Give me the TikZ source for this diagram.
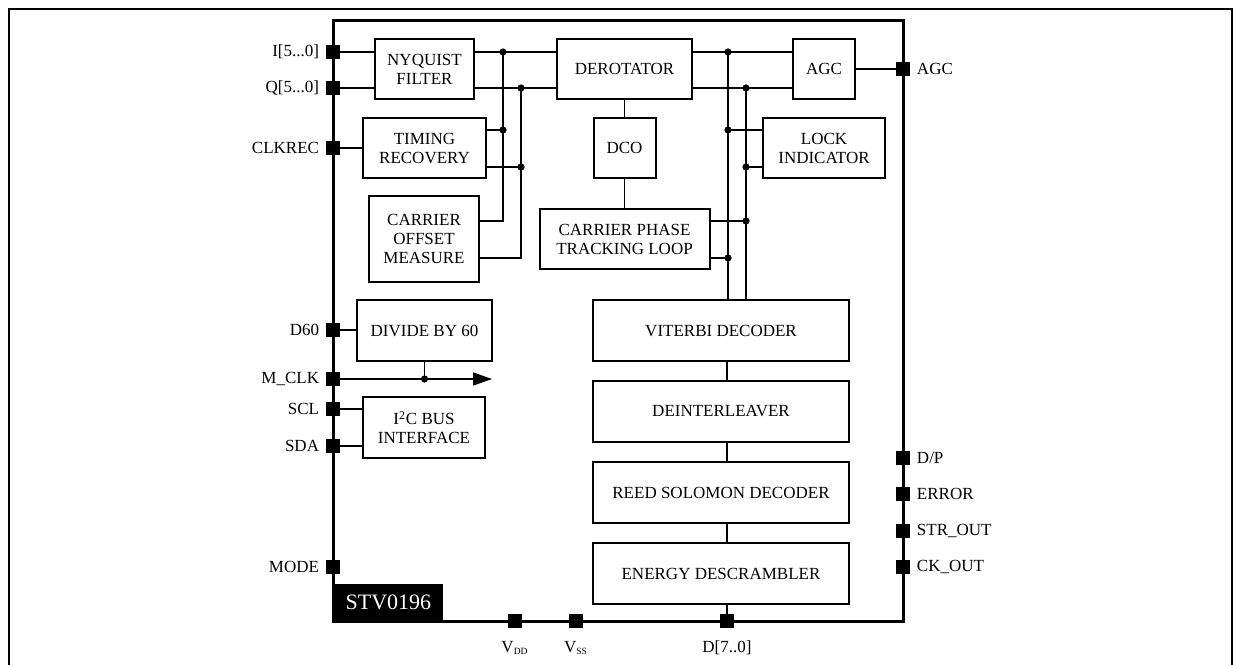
\documentclass[tikz,border=0pt]{standalone}
\usepackage{fontspec}
\setmainfont{Liberation Serif}
\usepackage{tikz}
\usetikzlibrary{arrows.meta,positioning}

\begin{document}
\begin{tikzpicture}[x=0.5pt,y=-0.5pt,
  box/.style={draw,line width=1pt,align=center,inner sep=1pt,font=\fontsize{8.5}{9.5}\selectfont},
  pin/.style={fill,minimum size=6.5pt,inner sep=0pt,label distance=0pt},
  dot/.style={circle,fill,minimum size=3.6pt,inner sep=0pt},
  wire/.style={line width=0.6pt},
  arrow/.style={wire,-{Triangle[length=9.5pt,width=6.5pt]}},
  node distance=9pt,every label/.style={font=\fontsize{8.5}{9.5}\selectfont}]
\useasboundingbox (0,0) rectangle (1234,664);
\draw[line width=1.2pt] (9,680) -- (9,9) -- (1232,9) -- (1232,680);
\draw[line width=1.5pt] (333,20) rectangle (903,621);
\node[fill,anchor=south west,minimum width=55pt,minimum height=18.5pt,inner sep=0pt,text=white,font=\fontsize{11}{13}\selectfont] (name) at (333,621) {STV0196};
% blocks
\node[box,minimum width=49.5pt,minimum height=30pt] (nyq) at (424.5,69) {NYQUIST\\FILTER};
\node[box,minimum width=61.5pt,minimum height=30pt] (tim) at (424.5,148) {TIMING\\RECOVERY};
\node[box,minimum width=55pt,minimum height=43pt] (cof) at (424,239) {CARRIER\\OFFSET\\MEASURE};
\node[box,minimum width=67.5pt,minimum height=30pt] (der) at (624.5,69) {DEROTATOR};
\node[box,minimum width=31pt,minimum height=30pt] (dco) at (624.5,148) {DCO};
\node[box,minimum width=85pt,minimum height=30pt] (cpt) at (624.5,239) {CARRIER PHASE\\TRACKING LOOP};
\node[box,minimum width=31pt,minimum height=30pt] (agc) at (824,69) {AGC};
\node[box,minimum width=61pt,minimum height=30pt] (lock) at (824,148) {LOCK\\INDICATOR};
\node[box,minimum width=128pt,minimum height=30.5pt] (vit) at (721,330.5) {VITERBI DECODER};
\node[box,minimum width=128pt,minimum height=30.5pt,below=of vit] (dei) {DEINTERLEAVER};
\node[box,minimum width=128pt,minimum height=30.5pt,below=of dei] (rs) {REED SOLOMON DECODER};
\node[box,minimum width=128pt,minimum height=30.5pt,below=of rs] (eds) {ENERGY DESCRAMBLER};
\node[box,minimum width=67.5pt,minimum height=30.5pt] (div) at (424.5,330.5) {DIVIDE BY 60};
\node[box,minimum width=61pt,minimum height=30.5pt] (i2c) at (424,427.5) {I\textsuperscript{2}C BUS\\INTERFACE};
% bus taps
\coordinate (l1) at (503,52); \coordinate (l2) at (521,88);
\coordinate (l3) at (503,130); \coordinate (l4) at (521,167);
\coordinate (l5) at (503,221); \coordinate (l6) at (521,258);
\coordinate (r1) at (728,52); \coordinate (r2) at (746,88);
\coordinate (r3) at (728,130); \coordinate (r4) at (746,167);
\coordinate (r5) at (746,221); \coordinate (r6) at (728,258);
\coordinate (mend) at (492,379);
% pins
\node[pin,label=left:{I[5...0]}] (pI) at (333,52) {};
\node[pin,label=left:{Q[5...0]}] (pQ) at (333,88) {};
\node[pin,label=left:CLKREC] (pCLK) at (333,148) {};
\node[pin,label=left:D60] (pD60) at (333,330) {};
\node[pin,label=left:M\_CLK] (pM) at (333,379) {};
\node[pin,label=left:SCL] (pSCL) at (333,409) {};
\node[pin,label=left:SDA] (pSDA) at (333,446) {};
\node[pin,label=left:MODE] (pMODE) at (333,567) {};
\node[pin,label=right:AGC] (pAGC) at (903,69) {};
\node[pin,label=right:D/P] (pDP) at (903,458) {};
\node[pin,label=right:ERROR] (pERR) at (903,494) {};
\node[pin,label=right:STR\_OUT] (pSTR) at (903,531) {};
\node[pin,label=right:CK\_OUT] (pCK) at (903,567) {};
\node[pin,label={[label distance=3pt]below:V\textsubscript{\scalebox{0.8}{DD}}}] (pVDD) at (515,621) {};
\node[pin,label={[label distance=3pt]below:V\textsubscript{\scalebox{0.8}{SS}}}] (pVSS) at (576,621) {};
\node[pin,label={[label distance=3pt]below:{D[7..0]}}] (pD) at (727,621) {};
% wires
\draw[wire] (pI) -- (pI-|nyq.west); \draw[wire] (pQ) -- (pQ-|nyq.west); \draw[wire] (pCLK) -- (pCLK-|tim.west);
\draw[wire] (l1-|nyq.east) -- (l1-|der.west); \draw[wire] (l2-|nyq.east) -- (l2-|der.west);
\draw[wire] (l1) -- (l5) -- (l5-|cof.east); \draw[wire] (l2) -- (l6) -- (l6-|cof.east);
\draw[wire] (l3-|tim.east) -- (l3); \draw[wire] (l4-|tim.east) -- (l4);
\draw[wire] (r1-|der.east) -- (r1-|agc.west); \draw[wire] (r2-|der.east) -- (r2-|agc.west);
\draw[wire] (r1) -- (r1|-vit.north); \draw[wire] (r2) -- (r2|-vit.north);
\draw[wire] (r3) -- (r3-|lock.west); \draw[wire] (r4) -- (r4-|lock.west);
\draw[wire] (r5-|cpt.east) -- (r5); \draw[wire] (r6-|cpt.east) -- (r6);
\draw[wire] (der) -- (dco) -- (cpt); \draw[wire] (agc) -- (pAGC);
\draw[wire] (pD|-vit.south) -- (pD|-dei.north); \draw[wire] (pD|-dei.south) -- (pD|-rs.north);
\draw[wire] (pD|-rs.south) -- (pD|-eds.north); \draw[wire] (pD|-eds.south) -- (pD);
\draw[wire] (pD60) -- (pD60-|div.west); \draw[arrow] (pM) -- (mend);
\draw[wire] (div.south) -- (div.south|-pM); \draw[wire] (pSCL) -- (pSCL-|i2c.west); \draw[wire] (pSDA) -- (pSDA-|i2c.west);
\foreach \c in {l1,l2,l3,l4,r1,r2,r3,r4,r5,r6} \node[dot] at (\c) {};
\node[dot] at (div.south|-pM) {};
% pins on top of the wires
\foreach \p in {pI,pQ,pCLK,pD60,pM,pSCL,pSDA,pMODE,pAGC,pDP,pERR,pSTR,pCK,pVDD,pVSS,pD} \fill (\p.south west) rectangle (\p.north east);
\end{tikzpicture}
\end{document}
